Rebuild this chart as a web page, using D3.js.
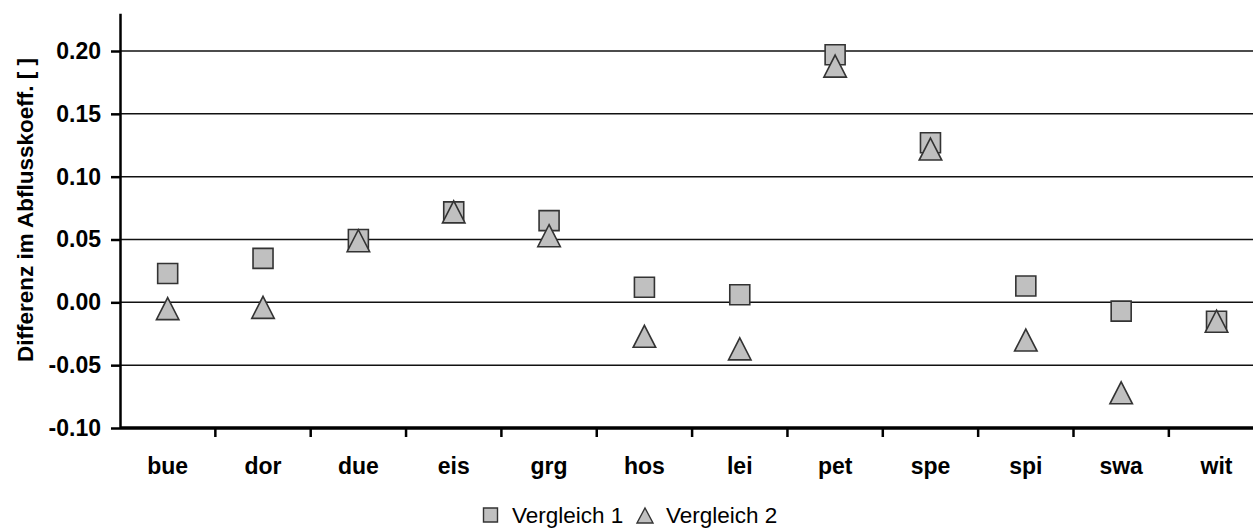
<!DOCTYPE html>
<html>
<head>
<meta charset="utf-8">
<script src="https://cdn.jsdelivr.net/npm/d3@7"></script>
<style>
  html, body { margin: 0; padding: 0; background: #fff; }
  svg { display: block; font-family: "Liberation Sans", Arial, sans-serif; }
</style>
</head>
<body>
<svg id="chart" width="1253" height="528"></svg>
<script>
// Catchment codes along the x axis
const categories = ["bue", "dor", "due", "eis", "grg", "hos", "lei", "pet", "spe", "spi", "swa", "wit"];
// Difference in runoff coefficient, comparison 1 (squares)
const vergleich1 = [0.023, 0.035, 0.050, 0.072, 0.065, 0.012, 0.006, 0.197, 0.127, 0.013, -0.007, -0.015];
// Difference in runoff coefficient, comparison 2 (triangles)
const vergleich2 = [-0.005, -0.004, 0.049, 0.072, 0.053, -0.027, -0.037, 0.188, 0.122, -0.030, -0.072, -0.015];
// Y axis ticks
const yTicks = [-0.10, -0.05, 0.00, 0.05, 0.10, 0.15, 0.20];
const seriesNames = ["Vergleich 1", "Vergleich 2"];

const svg = d3.select("#chart");
const W = 1253, H = 528;
svg.append("rect").attr("width", W).attr("height", H).attr("fill", "#fff");

const left = 120, bandW = 95.35;
const x = d3.scaleBand().domain(categories).range([left, left + bandW * categories.length]).padding(0);
const y = d3.scaleLinear().domain([-0.10, 0.23]).range([428, 13.3]);

// Horizontal gridlines
svg.append("g").selectAll("line").data(yTicks.filter(t => t > -0.10)).join("line")
  .attr("x1", left).attr("x2", W)
  .attr("y1", d => y(d)).attr("y2", d => y(d))
  .attr("stroke", "#111").attr("stroke-width", 1.5);

// Y axis (plain hyphen for negative labels)
const yAxis = d3.axisLeft(y).tickValues(yTicks).tickFormat(d => d.toFixed(2))
  .tickSize(9).tickSizeOuter(0).tickPadding(10);
const gy = svg.append("g").attr("transform", `translate(${left},0)`).call(yAxis);
gy.select(".domain").attr("stroke", "#000").attr("stroke-width", 2.5);
gy.selectAll(".tick line").attr("stroke", "#000").attr("stroke-width", 2.5);
gy.selectAll(".tick text").attr("font-size", 23).attr("font-weight", "bold").attr("fill", "#000")
  .attr("font-family", "'Liberation Sans', Arial, sans-serif");

// X axis: ticks at band boundaries
const xBottom = y(-0.10);
svg.append("line").attr("x1", left).attr("x2", W).attr("y1", xBottom).attr("y2", xBottom)
  .attr("stroke", "#000").attr("stroke-width", 3.5);
const boundaries = categories.slice(1).map(c => x(c));
svg.append("g").selectAll("line").data(boundaries).join("line")
  .attr("x1", d => d).attr("x2", d => d)
  .attr("y1", xBottom).attr("y2", xBottom + 9)
  .attr("stroke", "#000").attr("stroke-width", 2.5);
svg.append("g").selectAll("text").data(categories).join("text")
  .attr("x", d => x(d) + x.bandwidth() / 2).attr("y", 474)
  .attr("text-anchor", "middle").attr("font-size", 23).attr("font-weight", "bold")
  .text(d => d);

// Y axis title
svg.append("text")
  .attr("transform", `translate(33,${210}) rotate(-90)`)
  .attr("text-anchor", "middle").attr("font-size", 22.5).attr("font-weight", "bold")
  .text("Differenz im Abflusskoeff. [ ]");

// Marker shapes centred on their bounding box
const squarePath = s => `M${-s/2},${-s/2}H${s/2}V${s/2}H${-s/2}Z`;
const trianglePath = (w, h) => `M0,${-h/2}L${w/2},${h/2}L${-w/2},${h/2}Z`;
const fill = "#c0c0c0", stroke = "#333";

svg.append("g").selectAll("path").data(vergleich1).join("path")
  .attr("d", squarePath(20))
  .attr("transform", (d, i) => `translate(${x(categories[i]) + x.bandwidth() / 2},${y(d)})`)
  .attr("fill", fill).attr("stroke", stroke).attr("stroke-width", 1.6);

svg.append("g").selectAll("path").data(vergleich2).join("path")
  .attr("d", trianglePath(22.5, 22))
  .attr("transform", (d, i) => `translate(${x(categories[i]) + x.bandwidth() / 2},${y(d)})`)
  .attr("fill", fill).attr("stroke", stroke).attr("stroke-width", 1.6);

// Legend
const lg = svg.append("g");
lg.append("path").attr("d", squarePath(14)).attr("transform", "translate(490.5,515)")
  .attr("fill", fill).attr("stroke", stroke).attr("stroke-width", 1.4);
lg.append("text").attr("x", 512).attr("y", 522.5).attr("font-size", 22.5).text(seriesNames[0]);
lg.append("path").attr("d", trianglePath(16, 15)).attr("transform", "translate(645,515.5)")
  .attr("fill", fill).attr("stroke", stroke).attr("stroke-width", 1.4);
lg.append("text").attr("x", 666).attr("y", 522.5).attr("font-size", 22.5).text(seriesNames[1]);
</script>
</body>
</html>
